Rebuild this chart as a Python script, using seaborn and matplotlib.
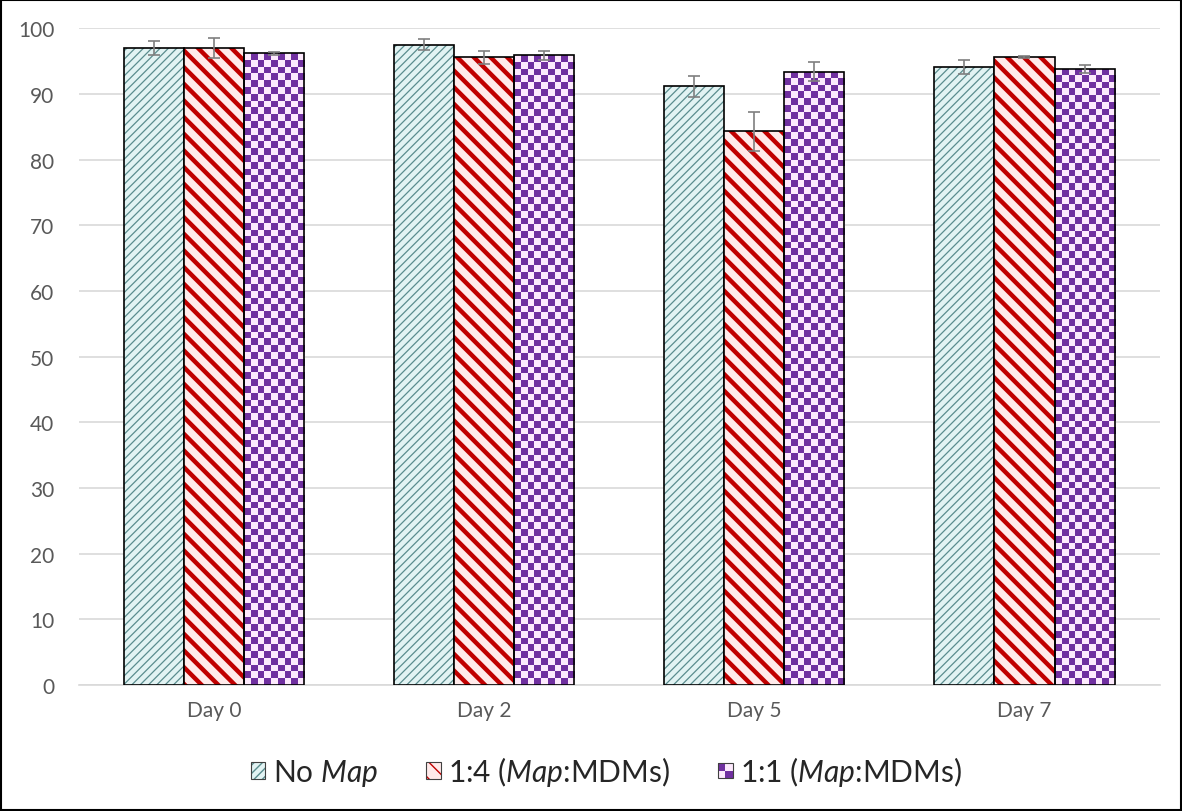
import numpy as np
import pandas as pd
import seaborn as sns
import matplotlib.pyplot as plt
from matplotlib.patches import Patch, Rectangle
from matplotlib.colors import ListedColormap, to_rgba
from matplotlib.legend_handler import HandlerBase

days = ["Day 0", "Day 2", "Day 5", "Day 7"]
groups = ["No $\\it{Map}$", "1:4 ($\\it{Map}$:MDMs)", "1:1 ($\\it{Map}$:MDMs)"]
no_map = [97.0, 97.5, 91.2, 94.1]
ratio_1_4 = [97.0, 95.6, 84.3, 95.6]
ratio_1_1 = [96.2, 95.9, 93.4, 93.8]
err_no_map = [1.1, 0.8, 1.6, 1.1]
err_1_4 = [1.5, 1.0, 3.0, 0.2]
err_1_1 = [0.2, 0.7, 1.4, 0.6]

values = [no_map, ratio_1_4, ratio_1_1]
errors = [err_no_map, err_1_4, err_1_1]

rows = []
for g, vals in zip(groups, values):
    for d, v in zip(days, vals):
        rows.append({"day": d, "group": g, "value": v})
df = pd.DataFrame(rows)

sns.set_theme(style="white")
plt.rcParams['font.family'] = ['Lato', 'DejaVu Sans']
plt.rcParams['mathtext.fontset'] = 'custom'
plt.rcParams['mathtext.rm'] = 'Lato'
plt.rcParams['mathtext.it'] = 'Lato:italic'

bg_cols = ["#e2f3f3", "#ffeaea", "#fdeafd"]
fg_cols = ["#5a8c8e", "#c00000", "#7030a0"]
grid_col = "#d9d9d9"
text_col = "#595959"

fig = plt.figure(figsize=(11.82, 8.12), dpi=100)
ax = fig.add_axes([0.067, 0.155, 0.914, 0.809])

sns.barplot(data=df, x="day", y="value", hue="group", hue_order=groups,
            palette=bg_cols, width=0.667, legend=False, ax=ax,
            edgecolor="black", linewidth=1.2, saturation=1, zorder=3)

ax.set_ylim(0, 100)
ax.set_xlim(-0.5, len(days) - 0.5)
ax.set_yticks(range(0, 101, 10))
ax.yaxis.grid(True, color=grid_col, linewidth=1.2, zorder=0)
ax.set_axisbelow(True)
for s in ["left", "right", "top"]:
    ax.spines[s].set_visible(False)
ax.spines["bottom"].set_color(grid_col)
ax.spines["bottom"].set_linewidth(1.2)
ax.set_xlabel("")
ax.set_ylabel("")
ax.tick_params(axis="y", length=0, labelsize=15, labelcolor=text_col, pad=18)
ax.tick_params(axis="x", which="major", length=0, labelsize=15, labelcolor=text_col, pad=11)
ax.set_xticks(np.arange(-0.5, len(days)), minor=True)
ax.tick_params(axis="x", which="minor", length=7, color=grid_col, width=1.2)

# hatches for the first two groups
hatches = ["////", "\\\\"]
hatch_lw = [0.9, 3.2]
for i in range(2):
    for p in ax.containers[i]:
        p.set_hatch(hatches[i])
        p._hatch_color = to_rgba(fg_cols[i])
        if hasattr(p, "set_hatch_linewidth"):
            p.set_hatch_linewidth(hatch_lw[i])

# checkerboard for the third group
fig.canvas.draw()
px = ax.transData.transform([(0, 0), (1, 1)])
px_x = px[1, 0] - px[0, 0]
px_y = px[0, 1] - px[1, 1]
checker = ListedColormap([bg_cols[2], fg_cols[2]])
cell = 6.8
for p in ax.containers[2]:
    x, w, h = p.get_x(), p.get_width(), p.get_height()
    nx = max(1, int(round(w * px_x / cell)))
    ny = max(1, int(round(h * abs(px_y) / cell)))
    board = (np.add.outer(np.arange(ny), np.arange(nx)) % 2).astype(float)
    im = ax.imshow(board, cmap=checker, extent=(x, x + w, 0, h), aspect="auto",
                   interpolation="nearest", origin="upper", zorder=2.9)
    im.set_clip_path(p)
    p.set_facecolor("none")
ax.set_xlim(-0.5, len(days) - 0.5)
ax.set_ylim(0, 100)
ax.set_aspect("auto")

# error bars
for cont, err in zip(ax.containers[:3], errors):
    xs = [p.get_x() + p.get_width() / 2 for p in cont]
    ys = [p.get_height() for p in cont]
    ax.errorbar(xs, ys, yerr=err, fmt="none", ecolor="#7f7f7f",
                elinewidth=1.2, capsize=4, capthick=1.2, zorder=4)


class CheckerHandler(HandlerBase):
    def create_artists(self, legend, orig_handle, xdescent, ydescent,
                       width, height, fontsize, trans):
        s = min(width, height)
        x0 = -xdescent + (width - s) / 2
        y0 = -ydescent + (height - s) / 2
        arts = [Rectangle((x0, y0), s, s, facecolor=fg_cols[2], edgecolor="none", transform=trans),
                Rectangle((x0 + s / 2, y0 + s / 2), s / 2, s / 2, facecolor=bg_cols[2],
                          edgecolor="none", transform=trans),
                Rectangle((x0, y0), s / 2, s / 2, facecolor=bg_cols[2],
                          edgecolor="none", transform=trans),
                Rectangle((x0, y0), s, s, facecolor="none", edgecolor="#404040",
                          lw=0.8, transform=trans)]
        return arts


handles = []
for i in range(2):
    h = Patch(facecolor=bg_cols[i], edgecolor="#404040", hatch=hatches[i], lw=0.8)
    h._hatch_color = to_rgba(fg_cols[i])
    if hasattr(h, "set_hatch_linewidth"):
        h.set_hatch_linewidth([0.6, 2.0][i])
    handles.append(h)
checker_handle = Patch(facecolor=fg_cols[2])
handles.append(checker_handle)

fig.legend(handles, groups, loc="center", bbox_to_anchor=(0.513, 0.049), ncol=3,
           frameon=False, fontsize=21.5, handlelength=0.5, handleheight=0.5,
           handletextpad=0.25, columnspacing=1.6,
           handler_map={checker_handle: CheckerHandler()})

fig.patches.append(Rectangle((0.001, 0.001), 0.998, 0.998, transform=fig.transFigure,
                             fill=False, edgecolor="black", linewidth=1.5))

fig.savefig("out.png", dpi=100)
